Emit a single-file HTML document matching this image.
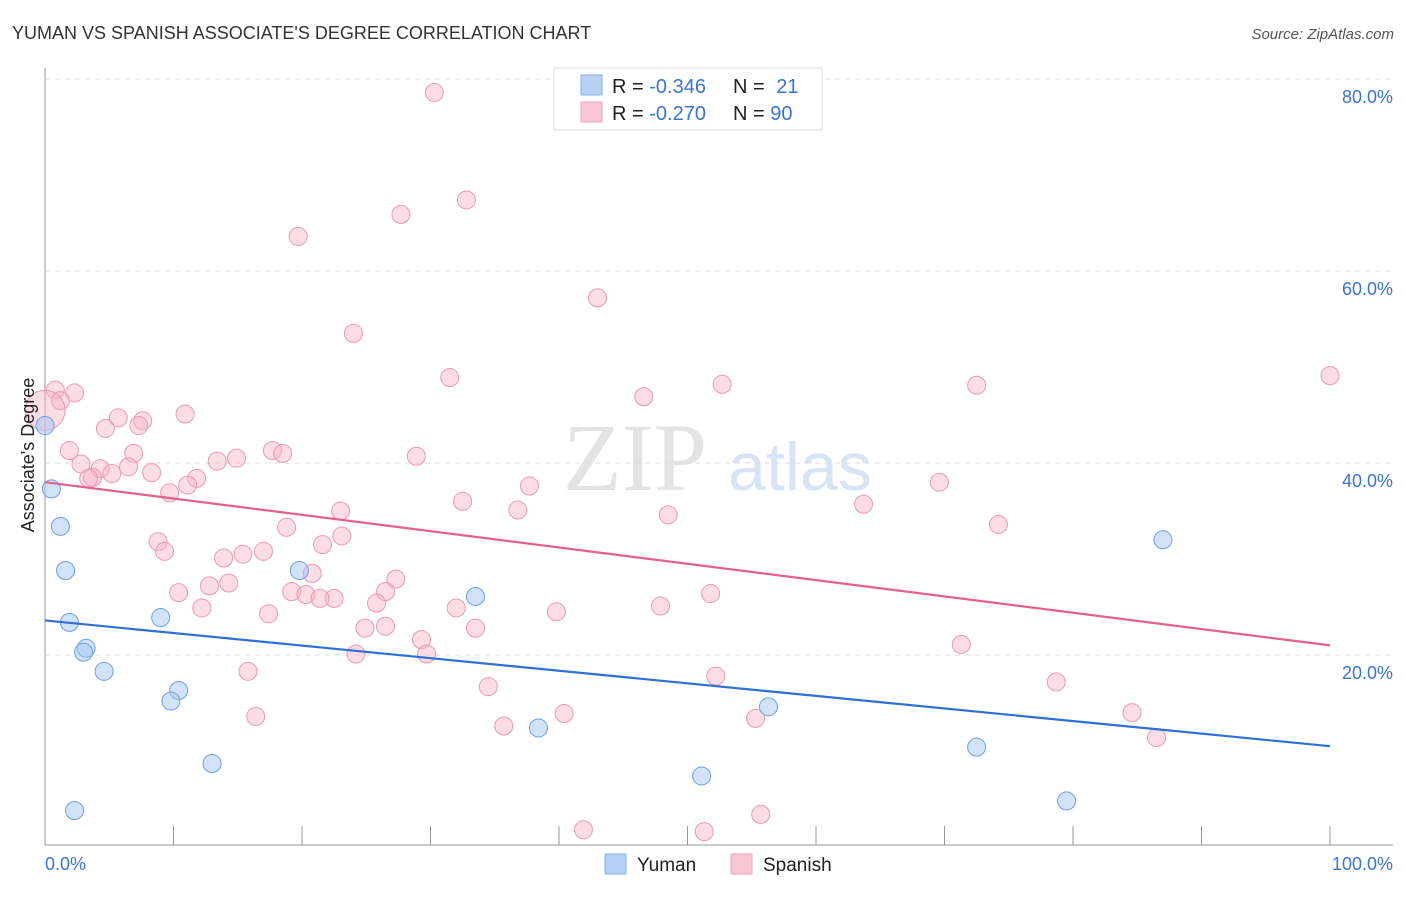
<!DOCTYPE html>
<html><head><meta charset="utf-8"><style>
body{margin:0;background:#fff;font-family:"Liberation Sans",sans-serif}
</style></head><body>
<svg width="1406" height="892" viewBox="0 0 1406 892" xmlns="http://www.w3.org/2000/svg">
<text x="12" y="39" font-size="18" fill="#333">YUMAN VS SPANISH ASSOCIATE'S DEGREE CORRELATION CHART</text>
<text x="1394" y="39" font-size="15" fill="#555" font-style="italic" text-anchor="end">Source: ZipAtlas.com</text>
<g>
<text x="635" y="490" font-size="96" fill="#e3e3e3" font-family="Liberation Serif" text-anchor="middle">ZIP</text>
<text x="800" y="490" font-size="68" fill="#d6e4f6" text-anchor="middle">atlas</text>
</g>
<g id="grid"></g>
<g id="axes"></g>
<g id="marks"></g>
<text transform="translate(34,455) rotate(-90)" font-size="18" fill="#222" text-anchor="middle">Associate's Degree</text>
<g>
<rect x="554" y="68" width="268" height="62" fill="#fff" stroke="#ddd"/>
<rect x="581" y="75" width="21" height="20" fill="#b7d1f4" stroke="#8ab1e6"/>
<rect x="581" y="102" width="21" height="20" fill="#f9c6d5" stroke="#eea3ba"/>
<text x="612" y="93" font-size="20" fill="#222">R = <tspan fill="#3b74d1">-0.346</tspan></text>
<text x="733" y="93" font-size="20" fill="#222">N = <tspan fill="#3b74d1" dx="6">21</tspan></text>
<text x="612" y="120" font-size="20" fill="#222">R = <tspan fill="#3b74d1">-0.270</tspan></text>
<text x="733" y="120" font-size="20" fill="#222">N = <tspan fill="#3b74d1">90</tspan></text>
</g>
<g>
<rect x="605" y="854" width="21" height="20" fill="#b7d1f4" stroke="#8ab1e6"/>
<text x="637" y="871" font-size="19" fill="#222">Yuman</text>
<rect x="731" y="854" width="21" height="20" fill="#f9c6d5" stroke="#eea3ba"/>
<text x="763" y="871" font-size="19" fill="#222">Spanish</text>
</g>
</svg>
<script>
const yumanX=[0,0.5,1.2,1.6,1.9,3.2,3.0,4.6,9.0,10.4,9.8,13.0,2.3,19.8,33.5,38.4,51.1,56.3,72.5,79.5,87.0];
const yumanY=[43.9,37.3,33.4,28.8,23.4,20.7,20.3,18.3,23.9,16.3,15.2,8.7,3.8,28.8,26.1,12.4,7.4,14.6,10.4,4.8,32.0];
const spanishX=[30.3,32.8,27.7,19.7,43.0,24.0,31.5,52.7,72.5,100,46.6,0.8,2.3,1.2,0,10.9,5.7,7.6,4.7,7.3,1.9,17.7,18.5,28.9,6.9,14.9,13.4,2.8,4.3,6.5,8.3,5.2,3.7,11.8,3.4,9.7,11.1,37.7,32.5,63.7,69.6,48.5,36.8,23.0,18.8,74.2,23.1,21.6,8.8,9.3,17.0,15.4,13.9,27.3,20.8,10.4,12.8,14.3,19.2,20.3,22.5,21.4,26.5,25.8,12.2,17.4,39.8,32.0,47.9,51.8,24.9,26.5,33.5,29.3,71.3,24.2,29.7,15.8,52.2,78.7,34.5,16.4,40.4,35.7,55.3,84.6,86.5,41.9,51.3,55.7];
const spanishY=[78.6,67.4,65.9,63.6,57.2,53.5,48.9,48.2,48.1,49.1,46.9,47.6,47.3,46.5,45.5,45.1,44.7,44.4,43.6,43.9,41.3,41.3,41.0,40.7,41.0,40.5,40.2,39.9,39.4,39.6,39.0,38.9,38.5,38.4,38.4,36.9,37.7,37.6,36.0,35.7,38.0,34.6,35.1,35.0,33.3,33.6,32.4,31.5,31.8,30.8,30.8,30.5,30.1,27.9,28.5,26.5,27.2,27.5,26.6,26.3,25.9,25.9,26.6,25.4,24.9,24.3,24.5,24.9,25.1,26.4,22.8,23.0,22.8,21.6,21.1,20.1,20.1,18.3,17.8,17.2,16.7,13.6,13.9,12.6,13.4,14.0,11.4,1.8,1.6,3.4];
const yumanTrend=[23.6,10.5];
const spanishTrend=[38.0,21.0];
const yTicks=[20,40,60,80];
const yTickLabels=["20.0%","40.0%","60.0%","80.0%"];
const xTicks=[0,10,20,30,40,50,60,70,80,90,100];
const xLabels=["0.0%","100.0%"];

const NS="http://www.w3.org/2000/svg";
const sx=v=>45+v*12.85, sy=v=>847-v*9.6;
function mk(t,a,p){const e=document.createElementNS(NS,t);for(const k in a)e.setAttribute(k,a[k]);p.appendChild(e);return e;}
const grid=document.getElementById('grid'),axes=document.getElementById('axes'),marks=document.getElementById('marks');
yTicks.forEach((t,i)=>{
 const l=mk('line',{x1:45,x2:1393,y1:sy(t),y2:sy(t),stroke:'#ddd','stroke-dasharray':'5,5'},grid);
 
 
 const tx=mk('text',{x:1393,y:sy(t)+24,'font-size':18,fill:'#3b74d1','text-anchor':'end'},axes);
 tx.textContent=yTickLabels[i];
 
 
});
const tl=mk('line',{x1:45,x2:1393,y1:79,y2:79,stroke:'#ddd','stroke-dasharray':'5,5'},grid);


const ya=mk('line',{x1:45,x2:45,y1:68,y2:845,stroke:'#999'},axes);


const xa=mk('line',{x1:45,x2:1393,y1:845,y2:845,stroke:'#999'},axes);


xTicks.forEach(t=>{
 const l=mk('line',{x1:sx(t),x2:sx(t),y1:826,y2:845,stroke:'#999'},axes);
 
 
});
const xl0=mk('text',{x:45,y:870,'font-size':18,fill:'#3b74d1'},axes);xl0.textContent=xLabels[0];


const xl1=mk('text',{x:1393,y:870,'font-size':18,fill:'#3b74d1','text-anchor':'end'},axes);xl1.textContent=xLabels[1];



spanishX.forEach((x,i)=>{
 const c=mk('circle',{cx:sx(x),cy:sy(spanishY[i]),r:(i===14?20:9),fill:'rgba(248,180,200,0.45)',stroke:'#eb98b3','stroke-width':1},marks);
 
 
});
yumanX.forEach((x,i)=>{
 const c=mk('circle',{cx:sx(x),cy:sy(yumanY[i]),r:9,fill:'rgba(165,198,242,0.5)',stroke:'#6d9fe0','stroke-width':1},marks);
 
 
});
const pl=mk('line',{x1:sx(0),y1:sy(spanishTrend[0]),x2:sx(100),y2:sy(spanishTrend[1]),stroke:'#e5608e','stroke-width':2.2},marks);


const bl=mk('line',{x1:sx(0),y1:sy(yumanTrend[0]),x2:sx(100),y2:sy(yumanTrend[1]),stroke:'#2f6fd6','stroke-width':2.2},marks);


</script>
</body></html>
